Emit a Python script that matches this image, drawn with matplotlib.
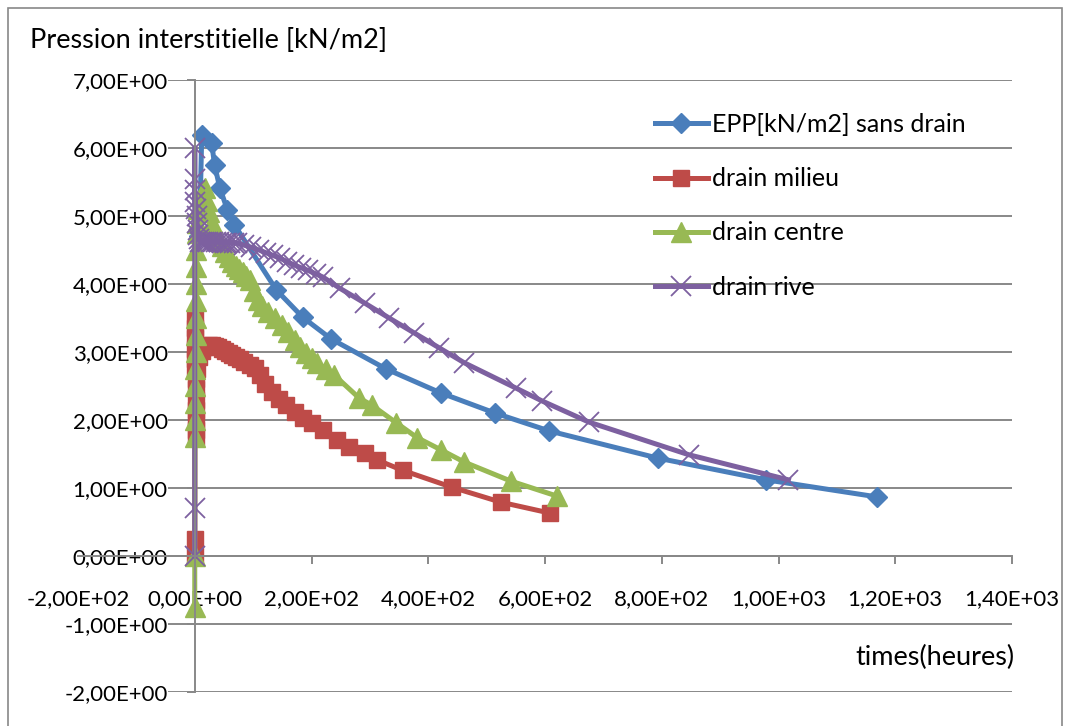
import matplotlib
matplotlib.use("Agg")
import matplotlib.pyplot as plt
from matplotlib.ticker import FuncFormatter, MultipleLocator
from matplotlib.patches import Rectangle

# temps (heures) et pression interstitielle [kN/m2]
t_sans = [8, 12, 29, 34, 43, 56, 68, 140, 185, 234, 328, 421, 515, 607, 793, 979, 1168]
p_sans = [4.70, 6.19, 6.07, 5.75, 5.41, 5.09, 4.87, 3.91, 3.51, 3.19, 2.75, 2.40, 2.10, 1.84, 1.44, 1.12, 0.87]

t_milieu = [0, 0, 0.2, 0.4, 0.6, 0.8, 1.0, 1.2, 1.4, 1.6, 1.8, 2.0, 2.2, 2.4, 2.6,
            4, 8, 12, 16, 20, 25, 30, 35, 40, 46, 52, 58, 64, 70, 77, 85, 95, 103, 111,
            121, 132, 144, 157, 171, 185, 200, 219, 243, 265, 291, 313, 356, 441, 525, 609]
p_milieu = [0.00, 0.25, 3.50, 3.35, 3.20, 3.05, 2.90, 2.75, 2.60, 2.45, 2.30, 2.15, 2.00, 1.85, 1.75,
            2.75, 2.92, 3.02, 3.07, 3.09, 3.10, 3.10, 3.09, 3.07, 3.04, 3.01, 2.98, 2.95, 2.93, 2.90, 2.86, 2.81, 2.76, 2.66,
            2.53, 2.41, 2.31, 2.22, 2.12, 2.03, 1.96, 1.85, 1.71, 1.60, 1.51, 1.41, 1.26, 1.01, 0.79, 0.63]

t_centre = [0, 0, 0.3, 0.5, 0.7, 0.9, 1.1, 1.3, 1.5, 1.7, 1.9, 2.1, 2.3, 2.6, 3.0, 4, 6, 10,
            17, 21, 25, 30, 35, 40, 46, 52, 58, 64, 70, 76, 82, 88, 94, 101, 108, 116, 125,
            137, 150, 160, 171, 181, 191, 200, 210, 224, 239, 282, 303, 345, 381, 422, 462, 542, 621]
p_centre = [-0.75, 0.00, 1.75, 2.00, 2.25, 2.50, 2.75, 3.00, 3.25, 3.50, 3.75, 4.00, 4.25, 4.50, 4.75, 4.90, 5.10, 5.30,
            5.41, 5.22, 5.06, 4.90, 4.77, 4.66, 4.56, 4.47, 4.40, 4.33, 4.27, 4.22, 4.17, 4.12, 4.06, 3.90, 3.76, 3.67, 3.59,
            3.50, 3.40, 3.29, 3.18, 3.08, 2.99, 2.91, 2.84, 2.75, 2.66, 2.32, 2.22, 1.96, 1.74, 1.56, 1.38, 1.10, 0.88]

t_rive = [0, 0, 0, 0, 0, 1, 2, 3, 4, 5, 6, 7, 9, 12, 15, 19, 23, 27, 31, 36, 41, 46, 51, 56, 61, 67,
          73, 85, 97, 110, 122, 134, 146, 158, 170, 182, 194, 207, 220, 248, 291, 333, 376, 419, 462,
          550, 595, 675, 846, 1017]
p_rive = [0.00, 0.70, 6.00, 5.55, 5.38, 5.20, 5.10, 5.00, 4.90, 4.80, 4.72, 4.66, 4.62, 4.62, 4.62, 4.62,
          4.62, 4.62, 4.62, 4.62, 4.62, 4.61, 4.61, 4.61, 4.61, 4.61,
          4.60, 4.57, 4.54, 4.50, 4.46, 4.42, 4.38, 4.33, 4.28, 4.24, 4.20, 4.15, 4.10, 3.94, 3.72, 3.50, 3.28, 3.06, 2.84,
          2.47, 2.28, 1.97, 1.49, 1.12]

plt.rcParams["font.family"] = ["Lato", "DejaVu Sans"]
fs_tick = 16
fs = 18
fs_title = 19.5
grey = "#888888"

fig = plt.figure(figsize=(10.68, 7.26), dpi=100)
W, H = 1068, 726
ax = fig.add_axes([78 / W, 1 - 692 / H, (1012 - 78) / W, (692 - 80) / H])

ax.plot(t_sans, p_sans, color="#4A7EBB", lw=3.6, marker="D", ms=10, label="EPP[kN/m2] sans drain")
ax.plot(t_milieu, p_milieu, color="#BE4B48", lw=3.6, marker="s", ms=12, label="drain milieu")
ax.plot(t_centre, p_centre, color="#98B954", lw=3.6, marker="^", ms=14, label="drain centre")
ax.plot(t_rive, p_rive, color="#7D60A0", lw=3.6, marker="x", ms=14, mew=1.3, label="drain rive")

ax.set_xlim(-200, 1400)
ax.set_ylim(-2, 7)
ax.xaxis.set_major_locator(MultipleLocator(200))
ax.yaxis.set_major_locator(MultipleLocator(1))

def excel_sci(v, pos):
    return "{:.2E}".format(v).replace(".", ",")

ax.xaxis.set_major_formatter(FuncFormatter(excel_sci))
ax.yaxis.set_major_formatter(FuncFormatter(excel_sci))

for side in ["top", "right"]:
    ax.spines[side].set_visible(False)
ax.spines["left"].set_position(("data", 0))
ax.spines["bottom"].set_position(("data", 0))
for side in ["left", "bottom"]:
    ax.spines[side].set_color(grey)
    ax.spines[side].set_linewidth(1.4)

ax.yaxis.grid(True, color=grey, lw=1.4)
ax.set_axisbelow(True)
ax.tick_params(axis="both", direction="out", color=grey, width=1.4, length=5.5, labelsize=fs_tick)
ax.tick_params(axis="y", pad=14)
ax.tick_params(axis="x", pad=18)
for lab in ax.get_yticklabels():
    lab.set_bbox(dict(facecolor="white", edgecolor="none", pad=0.5))

fig.text(30 / W, 1 - 40 / H, "Pression interstitielle [kN/m2]", fontsize=fs_title, ha="left", va="center")
fig.text(935 / W, 1 - 657 / H, "times(heures)", fontsize=fs_title, ha="center", va="center")

leg = ax.legend(loc="upper left", bbox_to_anchor=(655 / W, 1 - 113 / H), bbox_transform=fig.transFigure,
                frameon=False, fontsize=fs, handlelength=2.1, handletextpad=0.2, labelspacing=1.25,
                borderpad=0, borderaxespad=0)

fig.patches.append(Rectangle((8 / W, -0.02), (1062 - 8) / W, 1.02 - 8 / H, transform=fig.transFigure,
                             fill=False, edgecolor=grey, lw=1.2))

fig.savefig("out.png", dpi=100)
